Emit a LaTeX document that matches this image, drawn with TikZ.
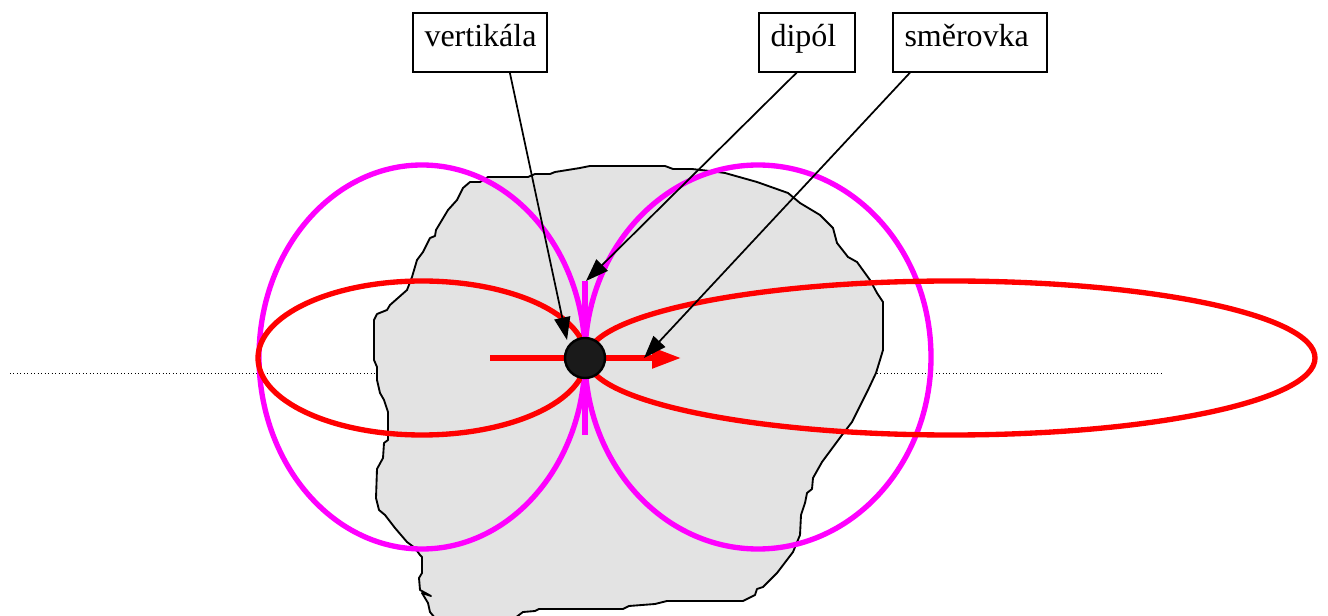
\documentclass[tikz,border=0pt]{standalone}
\usepackage{fontspec}
\setmainfont{Liberation Serif}
\usetikzlibrary{arrows.meta}
\definecolor{plochagray}{HTML}{E3E3E3}
\definecolor{stredblack}{HTML}{1A1A1A}
\definecolor{lalokmagenta}{HTML}{FF00FF}
\tikzset{
  popis/.style={draw,fill=white,line width=1.5pt,inner xsep=9pt,inner ysep=0pt,anchor=north west,align=left,
    text height=25.5pt,text depth=18.5pt,font=\fontsize{24}{26}\selectfont},
  sipka/.style={line width=1.3pt,-{Triangle[length=17pt,width=12pt]}},
  lalokm/.style={draw=lalokmagenta,line width=4pt},
  lalokr/.style={draw=red,line width=4pt}
}
\begin{document}
\begin{tikzpicture}[x=0.75pt,y=-0.75pt]
  \useasboundingbox (0,0) rectangle (1328,616);
  \draw[dotted,line width=0.6pt] (10,373)--(1162,373);
  \filldraw[fill=plochagray,draw=black,line width=1.4pt,line join=round]
    (590,166)--(580,168)--(555,172)--(550,174)--(535,174)--(528,177)--(488,177)--(480,182)
    --(470,182)--(463,188)--(457,200)--(448,210)--(442,220)--(436,230)--(435,236)--(430,238)
    --(423,252)--(417,260)--(412,277)--(407,290)--(390,305)--(387,310)--(377,314)--(374,320)
    --(374,360)--(377,367)--(377,380)--(380,393)--(384,400)--(388,412)--(388,440)--(384,443)
    --(383,458)--(377,469)--(376,498)--(379,510)--(385,515)--(395,528)--(407,542)--(415,548)
    --(420,555)--(422,557)--(422,573)--(419,578)--(420,590)--(431,596)--(422,593)--(428,603)
    --(430,612)--(435,618)--(515,618)--(523,612)--(535,611)--(539,609)--(623,609)--(629,606)
    --(655,604)--(667,601)--(743,601)--(755,595)--(757,589)--(763,587)--(777,573)--(793,552)
    --(800,535)--(801,515)--(805,503)--(807,493)--(812,489)--(813,478)--(822,462)--(842,435)
    --(852,422)--(863,400)--(868,390)--(876,373)--(880,360)--(883,350)--(883,302)--(877,293)
    --(870,280)--(857,262)--(848,257)--(837,243)--(833,228)--(820,215)--(800,203)--(788,193)
    --(757,182)--(725,173)--(710,171)--(692,169)--(673,169)--(665,166)--cycle;
  % laloky
  \draw[lalokm] (422,357) ellipse [x radius=163,y radius=192];
  \draw[lalokm] (758,357) ellipse [x radius=173,y radius=192];
  \draw[lalokr] (422,358) ellipse [x radius=164,y radius=77];
  \draw[lalokr] (951,358) ellipse [x radius=364,y radius=77];
  \draw[lalokmagenta,line width=4pt] (585,281)--(585,435);
  \coordinate (zadek) at (490,358);
  \coordinate (spicka) at (681,358);
  \draw[red,line width=4pt,-{Triangle[length=21.75pt,width=15pt]}] (zadek)--(spicka);
  \node[circle,draw=black,fill=stredblack,line width=1.8pt,minimum size=30pt,inner sep=0pt] (stred) at (585,358) {};
  % popisky
  \node[popis,text width=82.5pt] (vertikala) at (411.5,12) {vertikála};
  \node[popis,text width=54pt] (dipol) at (757.5,12) {dipól};
  \node[popis,text width=97.5pt] (smerovka) at (891.5,12) {směrovka};
  \coordinate (vertikalacil) at (567,340);
  \coordinate (dipolcil) at (586,281);
  \coordinate (smerovkacil) at (644,358);
  \draw[sipka] (vertikala.-45)--(vertikalacil);
  \draw[sipka] (dipol.-108)--(dipolcil);
  \draw[sipka] (smerovka.-153)--(smerovkacil);
\end{tikzpicture}
\end{document}
